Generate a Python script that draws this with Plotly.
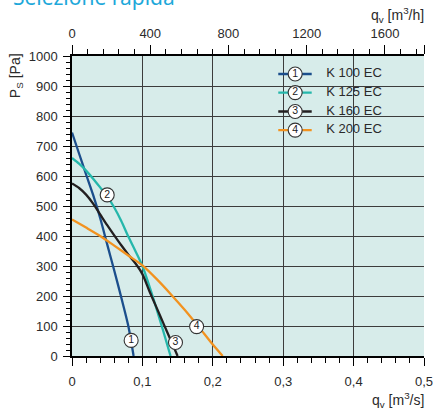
import plotly.graph_objects as go

# ---- data ----
series_names = ["K 100 EC", "K 125 EC", "K 160 EC", "K 200 EC"]
series_numbers = ["1", "2", "3", "4"]

q_k100 = [0, 0.01, 0.02, 0.03, 0.04, 0.05, 0.06, 0.07, 0.08, 0.0875]
p_k100 = [745, 675, 605, 537, 460, 372, 285, 195, 100, 0]

q_k125 = [0, 0.01, 0.02, 0.03, 0.04, 0.05, 0.06, 0.07, 0.08, 0.09, 0.10, 0.11, 0.12, 0.13, 0.14]
p_k125 = [660, 641, 618, 591, 562, 532, 495, 450, 398, 350, 300, 232, 158, 80, 0]

q_k160 = [0, 0.01, 0.02, 0.03, 0.04, 0.05, 0.06, 0.07, 0.08, 0.09, 0.10, 0.11, 0.12, 0.13, 0.14, 0.15]
p_k160 = [575, 560, 538, 508, 472, 436, 402, 369, 338, 309, 273, 216, 162, 108, 54, 0]

q_k200 = [0, 0.02, 0.04, 0.06, 0.08, 0.10, 0.12, 0.14, 0.16, 0.18, 0.20, 0.214]
p_k200 = [455, 428, 400, 368, 335, 302, 257, 207, 154, 97, 38, 0]

# curve marker labels (circled numbers on the curves)
label_q = [0.084, 0.050, 0.147, 0.177]
label_p = [52, 537, 45, 98]

x_tickvals = [0, 0.1, 0.2, 0.3, 0.4, 0.5]
x_ticktext = ["0", "0,1", "0,2", "0,3", "0,4", "0,5"]
x2_tickvals = [0, 400, 800, 1200, 1600, 1800]
x2_ticktext = ["0", "400", "800", "1200", "1600", " "]
y_tickvals = [0, 100, 200, 300, 400, 500, 600, 700, 800, 900, 1000]

colors = ["#1b4e8c", "#25b7ab", "#231f20", "#f2921f"]
qs = [q_k100, q_k125, q_k160, q_k200]
ps = [p_k100, p_k125, p_k160, p_k200]

# legend layout (fractions of plot area)
leg_line_x = [0.586, 0.681]
leg_circle_x = 0.634
leg_text_x = 0.722
leg_rows_y = [0.940, 0.878, 0.815, 0.753]

FONT = "Liberation Sans, Arial, sans-serif"
TXT = "#2a2a2a"

fig = go.Figure()

for q, p, c, n in zip(qs, ps, colors, series_names):
    fig.add_trace(go.Scatter(x=q, y=p, mode="lines", name=n,
                             line=dict(color=c, width=2.3, shape="spline", smoothing=0.8),
                             showlegend=False, hoverinfo="skip"))

fig.add_trace(go.Scatter(x=label_q, y=label_p, mode="markers+text", text=series_numbers,
                         textposition="middle center",
                         textfont=dict(family=FONT, size=10.5, color="#222"),
                         marker=dict(size=14, color="white", line=dict(color="#333", width=1.1)),
                         showlegend=False, hoverinfo="skip"))

# legend drawn on an overlay axis
for i, (c, n) in enumerate(zip(colors, series_names)):
    yy = leg_rows_y[i]
    fig.add_trace(go.Scatter(x=leg_line_x, y=[yy, yy], mode="lines",
                             line=dict(color=c, width=2.3), xaxis="x3", yaxis="y3",
                             showlegend=False, hoverinfo="skip"))
    fig.add_trace(go.Scatter(x=[leg_circle_x], y=[yy], mode="markers+text", text=[series_numbers[i]],
                             textposition="middle center",
                             textfont=dict(family=FONT, size=10.5, color="#222"),
                             marker=dict(size=14, color="white", line=dict(color="#333", width=1.1)),
                             xaxis="x3", yaxis="y3", showlegend=False, hoverinfo="skip"))
    fig.add_trace(go.Scatter(x=[leg_text_x], y=[yy], mode="text", text=[n],
                             textposition="middle right",
                             textfont=dict(family=FONT, size=13, color=TXT),
                             xaxis="x3", yaxis="y3", showlegend=False, hoverinfo="skip"))

# invisible trace so the top axis is active
fig.add_trace(go.Scatter(x=[0, 1800], y=[0, 0], mode="lines", line=dict(width=0),
                         xaxis="x2", yaxis="y", showlegend=False, hoverinfo="skip", opacity=0))

axis_common = dict(showline=True, linecolor="black", linewidth=1.5, ticks="outside",
                   tickcolor="black", tickwidth=1.2, zeroline=False,
                   tickfont=dict(family=FONT, size=13, color=TXT))

fig.update_layout(
    width=443, height=414,
    margin=dict(l=72, r=10, t=56, b=58),
    paper_bgcolor="white",
    plot_bgcolor="#d7ecea",
    xaxis=dict(range=[0, 0.5], tickvals=x_tickvals, ticktext=x_ticktext,
               showgrid=True, gridcolor="#3c3c3c", gridwidth=1,
               ticklen=8, ticklabelstandoff=5,
               minor=dict(dtick=0.02, ticks="outside", ticklen=5, tickcolor="black", tickwidth=1, showgrid=False),
               **axis_common),
    xaxis2=dict(range=[0, 1800], overlaying="x", side="top", anchor="y",
                tickvals=x2_tickvals, ticktext=x2_ticktext, showgrid=False,
                ticklen=9, ticklabelstandoff=2,
                minor=dict(dtick=80, ticks="outside", ticklen=5, tickcolor="black", tickwidth=1, showgrid=False),
                **axis_common),
    yaxis=dict(range=[0, 1000], tickvals=y_tickvals, showgrid=True, gridcolor="#3c3c3c", gridwidth=1,
               ticklen=7, ticklabelstandoff=3,
               minor=dict(dtick=20, ticks="outside", ticklen=4, tickcolor="black", tickwidth=1, showgrid=False),
               **axis_common),
    xaxis3=dict(range=[0, 1], overlaying="x", anchor="y3", visible=False, fixedrange=True),
    yaxis3=dict(range=[0, 1], overlaying="y", anchor="x3", visible=False, fixedrange=True),
    showlegend=False,
)

fig.add_annotation(text="Selezione rapida", xref="paper", yref="paper",
                   x=-0.172, y=1.197, xanchor="left", yanchor="middle", showarrow=False,
                   font=dict(family="Noto Sans, Open Sans, sans-serif", size=21, color="#1ea8da"))
fig.add_annotation(text="q<sub>v</sub> [m<sup>3</sup>/h]", xref="paper", yref="paper",
                   x=1.006, y=1.137, xanchor="right", yanchor="middle", showarrow=False,
                   font=dict(family=FONT, size=14, color=TXT))
fig.add_annotation(text="q<sub>v</sub> [m<sup>3</sup>/s]", xref="paper", yref="paper",
                   x=1.006, y=-0.147, xanchor="right", yanchor="middle", showarrow=False,
                   font=dict(family=FONT, size=14, color=TXT))
fig.add_annotation(text="P<sub>S</sub> [Pa]", xref="paper", yref="paper",
                   x=-0.159, y=0.933, xanchor="center", yanchor="middle", showarrow=False,
                   textangle=-90, font=dict(family=FONT, size=14, color=TXT))

fig.write_html("out.html", config={"displayModeBar": False},
               post_script="document.body.style.margin='0';")
